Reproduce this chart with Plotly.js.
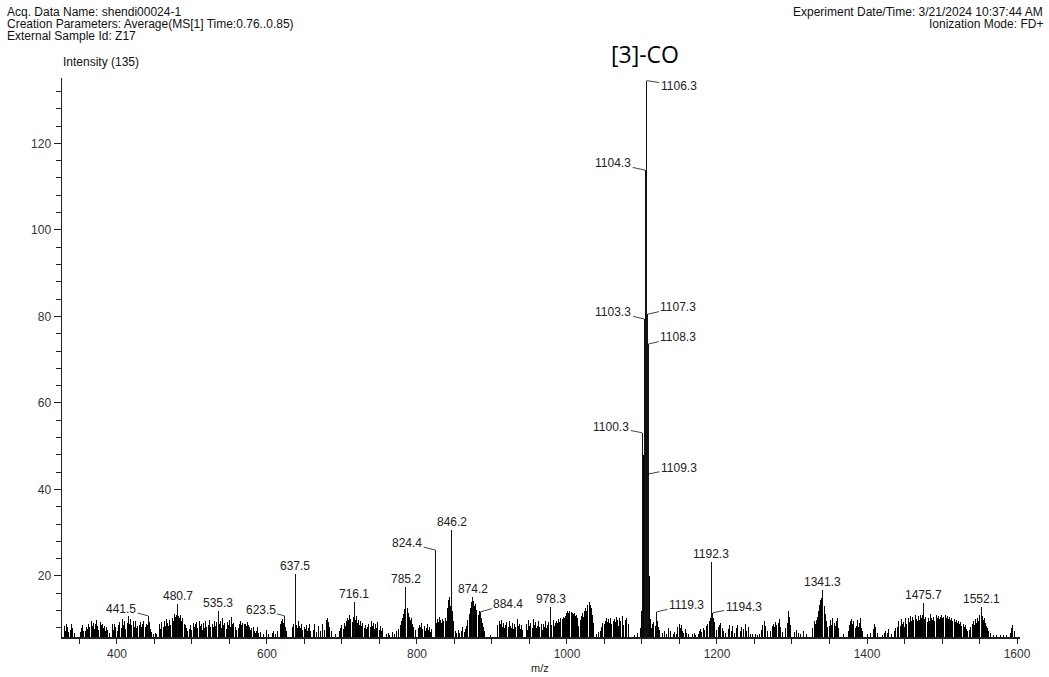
<!DOCTYPE html>
<html>
<head>
<meta charset="utf-8">
<script src="https://cdn.plot.ly/plotly-3.0.1.min.js"></script>
<style>
html,body{margin:0;padding:0;background:#fff;}
#chart{width:1049px;height:677px;}
#chart .scatterlayer path.js-line{shape-rendering:crispEdges !important;}
</style>
</head>
<body>
<div id="chart"></div>
<script>
// ---------- DATA ----------
// baseline noise sticks (m/z, intensity)
const noiseMz = [
 330,331.5,333,334.5,336,338,339.5,341,343,
 351,352.5,354,356,
 358,359.5,361,362.5,364,365.5,367,368.5,370,371.5,373,374.5,376,377.5,379,380.5,382,383.5,385,386.5,388,389.5,
 394,395.5,397,398.5,
 401,402.5,404,405.5,407,408.5,410,411.5,
 414,415.5,417,418.5,420,421.5,423,424.5,426,427.5,
 430,431.5,433,434.5,436,437.5,439,440.5,443,444.5,446,
 449,451,453,
 457,458.5,460,461.5,463,464.5,466,467.5,469,470.5,472,473.5,475,476.5,478,479.5,482,483.5,485,486.5,488,489.5,491,492.5,494,
 497,498.5,500,501.5,503,505,506.5,508,509.5,511,512.5,514,515.5,517,518.5,520,521.5,523,524.5,
 527,528.5,530,531.5,533,536.5,538,539.5,541,542.5,544,545.5,547,548.5,550,551.5,553,554.5,556,557.5,559,
 562,563.5,565,566.5,568,569.5,571,572.5,574,575.5,577,578.5,580,581.5,583,584.5,586,587.5,589,
 592,595,599,602,
 607,609,612,614,
 618,619.5,621,622.5,625,626.5,
 634,635.5,639,640.5,642,643.5,645,646.5,648,649.5,651,652.5,654,655.5,657,658.5,
 662,664,666,669,671,674,676.5,679,680.5,682,684,686,
 691,
 697,698.5,700,701.5,703,704.5,706,707.5,709,710.5,712,713.5,715,717.5,719,720.5,722,723.5,725,726.5,728,729.5,731,732.5,734,
 736,737.5,739,740.5,742,743.5,745,746.5,748,749.5,751,752.5,754,
 759,762,764,767,770,773,
 776,777.5,779,780.5,782,783.5,787,788.5,790,791.5,793,794.5,796,797.5,
 802,803.5,805,806.5,808,809.5,811,812.5,814,815.5,817,818.5,820,
 825.5,827,828.5,830,831.5,833,834.5,836,837.5,839,840.5,842,843.5,845,847.5,849,
 851,853,855,857,859,861,863,865,
 866.5,868,869.5,871,872.5,875.5,877,878.5,880,881.5,883,885.5,887,888.5,890,
 898,
 908,909.5,911,912.5,914,915.5,917,918.5,920,921.5,923,924.5,926,927.5,929,930.5,932,933.5,935,936.5,938,939.5,941,
 946,947.5,949,950.5,952,953.5,955,956.5,958,959.5,961,962.5,964,965.5,967,968.5,970,971.5,973,974.5,976,980,981.5,983,984.5,986,987.5,989,990.5,992,993.5,995,996.5,998,
 999.5,1001,1002.5,1004,1005.5,1007,1008.5,1010,1011.5,1013,1014.5,1016,1017.5,1019,1020.5,1022,1023.5,1025,1026.5,1028,1029.5,1031,1032.5,1034,1035.5,
 1039,1042,
 1045,1046.5,1048,1049.5,1051,1052.5,1054,1055.5,1057,1058.5,1060,1061.5,1063,1064.5,1066,1067.5,1069,1070.5,1072,1073.5,1075,
 1078,1080,1082,
 1090,1094,
 1113,1114.5,1116,1117.5,1121,1122.5,1124,
 1127,1130,1133,1135,1138,
 1142,1144,1146,1148,1149.5,1151,1152.5,1154,1156,1158,1160,1162,
 1168,1170,1172,1175,1177,1178.5,1180,1182,1184,1186,1188,1189.5,
 1191,1195.5,1197,1199,1202,1203.5,1205,1207,1209,1211,
 1215,1217,1219,1221,1224,1226,1228,1231,1233,1235,1238,1240,1242,1245,1248,
 1252,1254,1257,1259,1261,1263,1265,1267,
 1272,1274,1275.5,1277,1278.5,1280,1282,1283.5,1285,1287,
 1292,1293.5,1295,1296.5,1298,
 1304,1306,1309,1312,1316,1319,
 1328,1329.5,1331,1332.5,1334,1335.5,1337,1338.5,1340,1343,1344.5,1346,1347.5,
 1350,1351.5,1353,1354.5,1356,1357.5,1359,1360.5,1362,
 1368,
 1375,1376.5,1378,1379.5,1381,1382.5,1384,1385.5,1387,1388.5,1390,1391.5,1393,1394.5,
 1401,1405,1408,1409.5,1411,1414,
 1420,1423,1425,1427,1429,1433,1436,1438,
 1441,1442.5,1444,1445.5,1447,1448.5,1450,1451.5,1453,
 1455,1456.5,1458,1459.5,1461,1462.5,1464,1465.5,1467,1468.5,1470,1471.5,1473,1474.5,1477,1478.5,1480,1481.5,1483,1484.5,1486,1487.5,1489,1490.5,1492,1493.5,1495,1496.5,1498,1499.5,1501,1502.5,1504,1505.5,1507,1508.5,1510,1511.5,1513,1514.5,1516,1517.5,1519,1520.5,1522,1523.5,1525,1526.5,1528,1529.5,1531,1532.5,1534,
 1537,1538.5,1540,1541.5,1543,1544.5,1546,1547.5,1549,1550.5,1553.5,1555,1556.5,1558,1559.5,1561,1562.5,1564,
 1568,1572,1578,1582,1586,
 1591,1593,1594.5,1596
];
const noiseInt = [
 8.4,7.2,8.9,8.1,7.0,7.6,8.8,7.9,6.8,
 7.1,7.9,8.6,7.3,
 7.4,8.3,7.7,8.9,8.2,9.6,8.5,9.2,7.8,8.8,9.9,8.4,7.6,9.4,8.7,9.0,7.9,8.5,7.3,8.1,7.5,6.9,
 8.8,7.6,9.0,8.2,
 7.4,8.6,9.3,8.0,10.0,8.7,9.5,7.8,
 9.2,10.8,9.0,10.1,8.6,9.7,8.3,9.5,7.9,8.4,
 8.7,9.4,8.1,8.9,9.6,8.3,9.0,8.6,9.3,7.7,7.0,
 6.6,6.9,6.5,
 8.9,7.8,9.3,8.2,9.6,8.5,10.0,9.1,8.4,9.8,8.7,10.4,9.5,11.2,10.6,11.0,10.8,10.3,10.9,9.6,10.2,9.0,8.6,7.9,7.2,
 7.8,8.6,7.5,9.1,8.2,8.8,9.4,7.9,9.7,8.4,8.9,7.6,9.2,8.0,9.5,8.3,8.7,9.9,8.1,
 9.0,8.2,9.6,8.5,9.3,8.8,9.7,8.0,10.2,8.6,9.1,7.8,9.4,8.7,9.9,8.3,10.5,8.9,9.2,8.1,7.6,
 7.9,8.8,9.5,8.6,9.2,8.9,9.0,8.4,9.3,8.7,8.1,7.5,7.9,8.3,7.2,6.8,7.4,8.2,6.9,
 7.1,6.6,7.6,6.7,
 6.9,7.3,6.7,7.2,
 8.8,9.6,10.0,9.2,8.3,7.4,
 8.2,9.0,8.7,8.0,9.5,8.4,7.9,8.8,7.5,8.3,7.7,8.6,7.2,7.9,8.9,7.4,
 7.6,8.8,7.1,8.5,7.3,8.9,7.5,9.9,10.2,9.3,8.1,7.4,
 6.5,
 7.2,8.0,8.6,7.8,9.1,8.4,9.5,10.3,9.8,11.0,10.1,9.4,10.6,9.9,10.7,9.2,9.8,8.7,9.5,8.4,9.1,8.0,8.6,7.7,8.3,
 9.0,8.2,9.6,8.5,9.2,7.8,8.9,8.0,9.3,7.6,8.4,7.2,7.9,
 6.6,6.9,6.4,7.0,6.7,7.2,
 7.8,8.6,9.5,10.4,11.3,12.3,12.6,11.4,10.6,9.8,10.2,8.9,8.1,7.5,
 7.9,8.7,8.2,9.1,7.7,8.5,7.4,8.0,8.8,7.6,8.3,7.1,7.8,
 9.1,10.0,9.4,10.6,9.8,9.2,10.1,9.5,10.3,9.7,12.5,14.4,15.2,13.0,12.0,9.5,
 7.2,6.8,7.6,6.9,7.4,8.1,7.0,7.8,
 8.5,9.8,11.2,12.6,14.0,14.3,13.0,13.6,12.1,11.0,11.8,10.3,9.1,8.2,7.3,
 6.4,
 8.6,9.5,8.8,9.9,8.3,9.1,7.9,8.7,9.4,8.2,9.7,8.5,8.0,9.2,7.7,8.9,8.1,10.0,8.4,9.0,7.8,8.6,7.5,
 8.9,7.6,9.8,8.4,9.2,8.0,10.0,8.7,9.4,7.9,8.5,9.7,8.1,8.8,7.6,9.0,8.3,9.5,8.0,8.7,9.3,8.6,9.9,8.4,9.1,9.6,9.2,10.0,9.4,10.3,10.1,10.5,10.2,10.8,
 11.4,11.8,11.5,11.9,11.6,11.5,11.2,11.4,10.8,11.1,10.2,8.4,9.9,10.8,11.4,10.6,11.9,12.5,11.8,13.2,13.9,13.4,12.6,11.0,9.2,
 6.6,7.0,
 7.4,8.3,9.1,8.8,9.6,10.2,9.4,10.0,9.2,10.4,8.9,9.7,10.1,9.3,10.6,9.8,8.4,10.3,9.5,10.7,8.6,
 9.8,10.4,9.0,
 6.4,6.8,
 8.0,8.8,9.3,8.4,9.6,8.2,7.5,
 6.9,7.4,6.6,7.9,7.2,
 6.5,7.1,6.6,8.2,8.9,8.0,8.6,7.4,6.8,7.7,6.9,6.5,
 6.5,6.9,6.4,6.6,7.2,7.8,7.0,7.9,7.5,8.4,8.9,9.6,
 10.2,10.4,9.3,7.6,8.1,8.7,9.2,8.0,7.4,6.9,
 7.8,8.6,7.2,8.4,6.9,7.9,8.6,7.3,8.2,7.7,8.9,7.4,8.1,6.7,6.5,
 6.5,6.4,6.6,7.5,8.6,9.7,8.4,7.3,
 7.2,8.5,9.0,8.1,9.4,8.6,9.2,10.0,8.3,7.1,
 8.0,9.2,12.0,10.5,8.6,
 7.0,7.6,6.8,6.6,7.3,6.7,
 7.9,9.6,8.8,9.9,10.5,12.0,13.4,14.5,15.0,13.1,11.2,9.6,8.2,
 8.4,9.8,8.7,10.4,9.1,8.5,9.6,10.2,7.9,
 6.6,
 7.4,8.6,9.5,10.0,8.8,9.6,7.9,8.5,9.8,8.3,9.1,10.3,8.0,7.2,
 6.5,6.9,7.8,8.9,8.1,6.8,
 6.4,6.8,7.4,6.9,7.8,6.6,7.2,7.9,
 8.2,9.6,8.4,10.0,8.9,9.4,8.1,10.3,9.0,
 10.2,9.4,10.8,9.7,10.5,9.9,10.9,10.1,9.6,10.7,9.8,11.0,10.4,10.9,10.0,10.6,9.3,10.2,9.7,11.2,10.4,9.8,10.6,9.5,11.0,10.3,10.8,10.0,10.5,10.9,10.2,10.6,11.0,10.4,10.8,10.1,10.5,9.9,10.3,9.6,10.1,9.4,9.9,9.1,9.6,8.8,9.3,8.5,9.0,8.2,8.6,7.8,7.3,
 7.5,8.3,8.9,9.5,8.6,10.0,9.2,10.4,9.6,11.0,10.7,9.8,10.3,9.1,8.5,8.0,7.4,6.9,
 6.4,6.3,6.4,6.3,6.4,
 6.8,7.9,8.6,7.2
];
// unlabeled sticks of the main isotope cluster
const clusterMz  = [1098.3, 1099.3, 1101.3, 1102.3, 1105.3, 1110.3, 1111.3, 1112.3];
const clusterInt = [8, 12, 37, 48, 99, 20, 10, 8];
// labeled peaks
const peakMz  = [441.5, 480.7, 535.3, 623.5, 637.5, 716.1, 785.2, 824.4, 846.2, 874.2, 884.4, 978.3,
                 1100.3, 1103.3, 1104.3, 1106.3, 1107.3, 1108.3, 1109.3, 1119.3, 1192.3, 1194.3, 1341.3, 1475.7, 1552.1];
const peakInt = [10.8, 13.5, 11.9, 10.8, 20.5, 14.0, 17.5, 26.0, 30.6, 15.2, 11.7, 12.8,
                 53.1, 79.4, 113.8, 134.5, 80.5, 73.6, 43.6, 11.7, 23.2, 11.5, 16.8, 13.8, 12.8];
const peakLabels = ["441.5","480.7","535.3","623.5","637.5","716.1","785.2","824.4","846.2","874.2","884.4","978.3",
                    "1100.3","1103.3","1104.3","1106.3","1107.3","1108.3","1109.3","1119.3","1192.3","1194.3","1341.3","1475.7","1552.1"];
const xTickVals = [400, 600, 800, 1000, 1200, 1400, 1600];
const yTickVals = [20, 40, 60, 80, 100, 120];

// ---------- STYLE ----------
const FONT = "Liberation Sans, Arial, Helvetica, sans-serif";
const BASE = 5.9;          // floor of the intensity axis
const leaderOffsets = {    // label box offset from stick top, in px
  "441.5": [-27, -7], "623.5": [-24, -6], "824.4": [-28, -7], "884.4": [28, -8],
  "1100.3": [-31, -6], "1103.3": [-31, -7], "1104.3": [-32, -7], "1106.3": [32, 5],
  "1107.3": [31, -7], "1108.3": [30, -7], "1109.3": [30, -6], "1119.3": [30, -7], "1194.3": [31, -6]
};

function sticks(mz, inten) {
  const n = Math.min(mz.length, inten.length);
  const xs = [], ys = [];
  for (let i = 0; i < n; i++) { xs.push(mz[i], mz[i], null); ys.push(BASE, inten[i], null); }
  return {xs, ys};
}
const s1 = sticks(noiseMz, noiseInt);
const s2 = sticks(clusterMz, clusterInt);
const s3 = sticks(peakMz, peakInt);

const traces = [
  {x: s1.xs, y: s1.ys, type: 'scatter', mode: 'lines', line: {color: '#000', width: 1}, hoverinfo: 'skip', showlegend: false},
  {x: s2.xs, y: s2.ys, type: 'scatter', mode: 'lines', line: {color: '#000', width: 1.5}, hoverinfo: 'skip', showlegend: false},
  {x: s3.xs, y: s3.ys, type: 'scatter', mode: 'lines', line: {color: '#111', width: 1}, hoverinfo: 'skip', showlegend: false}
];

const annotations = [];
peakLabels.forEach((lab, i) => {
  const off = leaderOffsets[lab];
  if (off) {
    annotations.push({x: peakMz[i], y: peakInt[i], xref: 'x', yref: 'y', text: lab,
      showarrow: true, arrowhead: 0, arrowwidth: 1, arrowcolor: '#444', standoff: 0,
      ax: off[0], ay: off[1], font: {family: FONT, size: 12, color: '#222'}});
  } else {
    annotations.push({x: peakMz[i], y: peakInt[i], xref: 'x', yref: 'y', text: lab,
      showarrow: false, yanchor: 'bottom', yshift: -1, font: {family: FONT, size: 12, color: '#222'}});
  }
});

// header texts (paper coordinates relative to the plot area)
const hdr = {family: FONT, size: 12, color: '#111'};
function px(xp) { return (xp - 62) / 958; }
function py(yp) { return (637 - yp) / 559; }
annotations.push(
  {xref: 'paper', yref: 'paper', x: px(5), y: py(12), xanchor: 'left', yanchor: 'middle', text: 'Acq. Data Name: shendi00024-1', showarrow: false, font: hdr},
  {xref: 'paper', yref: 'paper', x: px(5), y: py(24), xanchor: 'left', yanchor: 'middle', text: 'Creation Parameters: Average(MS[1] Time:0.76..0.85)', showarrow: false, font: hdr},
  {xref: 'paper', yref: 'paper', x: px(5), y: py(36), xanchor: 'left', yanchor: 'middle', text: 'External Sample Id: Z17', showarrow: false, font: hdr},
  {xref: 'paper', yref: 'paper', x: px(61), y: py(62), xanchor: 'left', yanchor: 'middle', text: 'Intensity (135)', showarrow: false, font: hdr},
  {xref: 'paper', yref: 'paper', x: px(1045), y: py(12), xanchor: 'right', yanchor: 'middle', text: 'Experiment Date/Time: 3/21/2024 10:37:44 AM', showarrow: false, font: hdr},
  {xref: 'paper', yref: 'paper', x: px(1045), y: py(24), xanchor: 'right', yanchor: 'middle', text: 'Ionization Mode: FD+', showarrow: false, font: hdr},
  {xref: 'paper', yref: 'paper', x: px(645), y: py(54), xanchor: 'center', yanchor: 'middle', text: '[3]-CO', showarrow: false, font: {family: 'Open Sans, Noto Sans, sans-serif', size: 23, color: '#000'}},
  {xref: 'paper', yref: 'paper', x: px(540), y: py(668), xanchor: 'center', yanchor: 'middle', text: 'm/z', showarrow: false, font: {family: FONT, size: 11, color: '#222'}}
);

const layout = {
  width: 1049, height: 677,
  margin: {l: 62, r: 29, t: 78, b: 40, pad: 0},
  paper_bgcolor: '#fff', plot_bgcolor: '#fff',
  showlegend: false,
  xaxis: {
    range: [326.7, 1604], showgrid: false, zeroline: false,
    showline: true, linecolor: '#222', linewidth: 1.5,
    tickmode: 'array', tickvals: xTickVals, ticktext: xTickVals.map(String),
    ticks: 'outside', ticklen: 5, tickwidth: 1, tickcolor: '#222',
    minor: {dtick: 50, tick0: 0, ticks: 'outside', ticklen: 5, tickwidth: 1, tickcolor: '#222'},
    tickfont: {family: FONT, size: 12, color: '#333'}
  },
  yaxis: {
    range: [BASE, 135.1], showgrid: false, zeroline: false,
    showline: true, linecolor: '#222', linewidth: 1.5,
    tickmode: 'array', tickvals: yTickVals, ticktext: yTickVals.map(String),
    ticks: 'outside', ticklen: 7, tickwidth: 1, tickcolor: '#222',
    minor: {dtick: 4, tick0: 0, ticks: 'outside', ticklen: 5, tickwidth: 1, tickcolor: '#222'},
    tickfont: {family: FONT, size: 12, color: '#333'}
  },
  annotations: annotations
};

Plotly.newPlot('chart', traces, layout, {displayModeBar: false, staticPlot: true});
</script>
</body>
</html>
